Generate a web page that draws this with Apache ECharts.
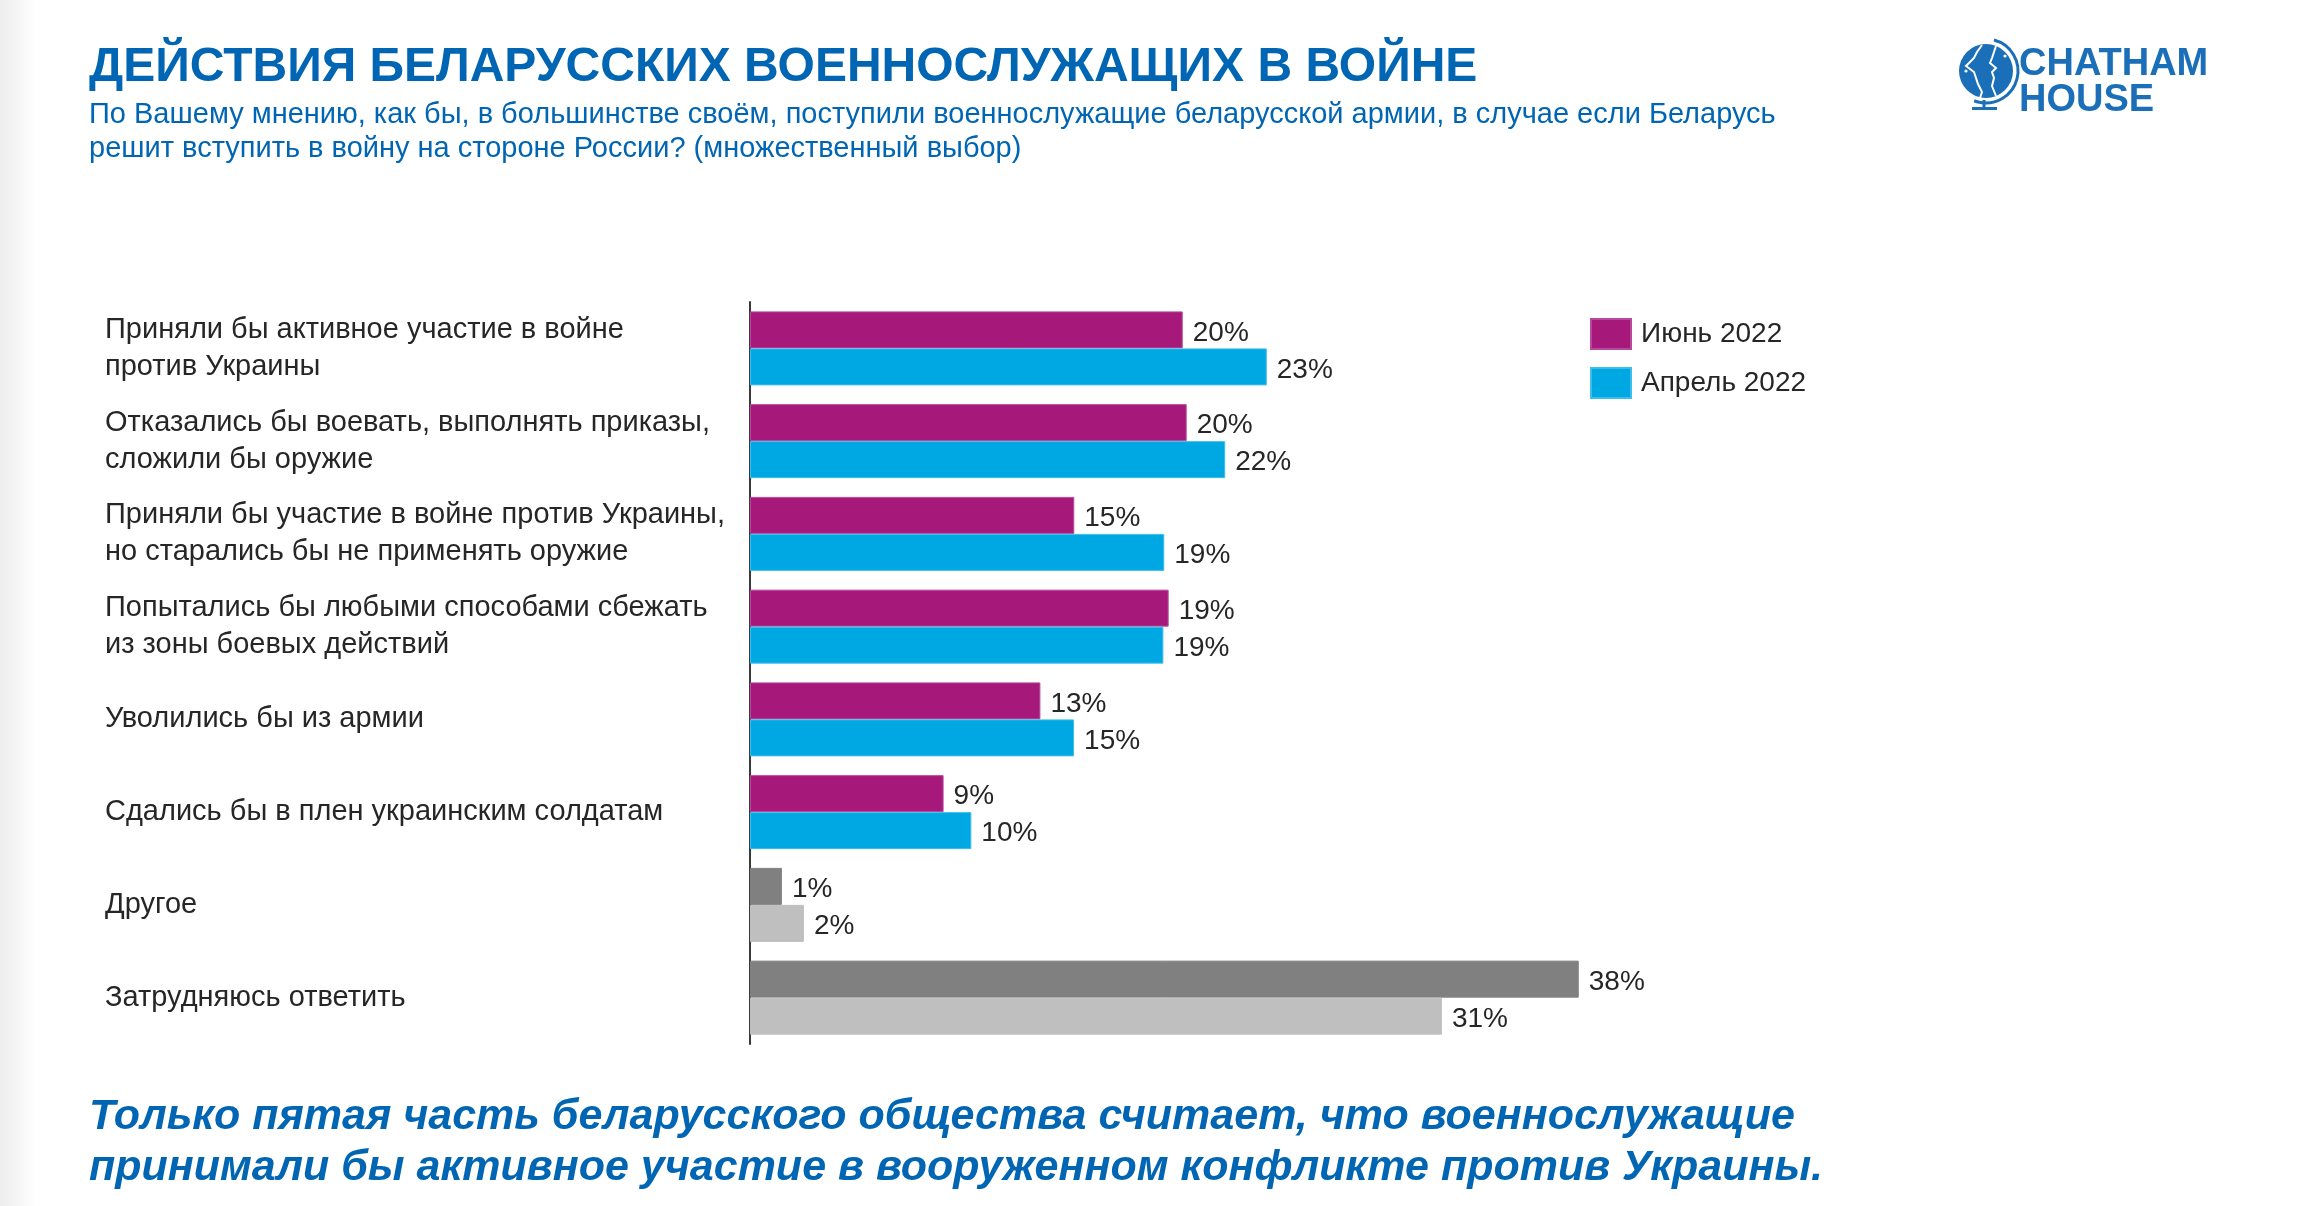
<!DOCTYPE html>
<html>
<head>
<meta charset="utf-8">
<script src="https://cdn.jsdelivr.net/npm/echarts@6/dist/echarts.min.js"></script>
<style>
html,body{margin:0;padding:0;background:#fff;}
#chart{width:2300px;height:1206px;}
</style>
</head>
<body>
<div id="chart"></div>
<script>
// ---- data ----
const categories = [
  'Приняли бы активное участие в войне\nпротив Украины',
  'Отказались бы воевать, выполнять приказы,\nсложили бы оружие',
  'Приняли бы участие в войне против Украины,\nно старались бы не применять оружие',
  'Попытались бы любыми способами сбежать\nиз зоны боевых действий',
  'Уволились бы из армии',
  'Сдались бы в плен украинским солдатам',
  'Другое',
  'Затрудняюсь ответить'
];
const seriesNames = ['Июнь 2022', 'Апрель 2022'];
const june2022 = [19.67, 19.85, 14.74, 19.03, 13.2, 8.8, 1.45, 37.67];
const april2022 = [23.49, 21.6, 18.83, 18.79, 14.73, 10.06, 2.45, 31.45];
const titleText = 'ДЕЙСТВИЯ БЕЛАРУССКИХ ВОЕННОСЛУЖАЩИХ В ВОЙНЕ';
const subtitleLines = [
  'По Вашему мнению, как бы, в большинстве своём, поступили военнослужащие беларусской армии, в случае если Беларусь',
  'решит вступить в войну на стороне России? (множественный выбор)'
];
const footnoteLines = [
  'Только пятая часть беларусского общества считает, что военнослужащие',
  'принимали бы активное участие в вооруженном конфликте против Украины.'
];

// ---- styles ----
const BLUE = '#0065B3';
const PURPLE = '#A6197A';
const CYAN = '#00A8E3';
const GRAY_DARK = '#808080';
const GRAY_LIGHT = '#BFBFBF';
const grayCats = ['Другое', 'Затрудняюсь ответить'];
const FONT = '"Liberation Sans", Arial, sans-serif';

function buildData(values, grayColor) {
  return values.map((v, i) => {
    const isGray = grayCats.indexOf(categories[i]) >= 0;
    return isGray ? { value: v, itemStyle: { color: grayColor, borderColor: grayColor } } : { value: v };
  });
}

const chart = echarts.init(document.getElementById('chart'), null, { renderer: 'canvas' });

const labelCfg = {
  show: true,
  position: 'right',
  distance: 10,
  offset: [0, 3],
  color: '#262626',
  fontFamily: FONT,
  fontSize: 28,
  formatter: p => Math.round(p.value) + '%'
};

function txt(x, y, text, font, fill) {
  return { type: 'text', x: x, y: y, silent: true,
    style: { text: text, fill: fill, font: font, verticalAlign: 'middle', align: 'left' } };
}

const option = {
  backgroundColor: '#ffffff',
  animation: false,
  grid: { left: 750, top: 302, width: 880, height: 742 },
  xAxis: { type: 'value', min: 0, max: 40, show: false },
  yAxis: {
    type: 'category',
    data: categories,
    inverse: true,
    axisLine: { show: true, lineStyle: { color: '#3a3a3a', width: 2 } },
    axisTick: { show: false },
    axisLabel: {
      align: 'left',
      margin: 645,
      color: '#262626',
      fontFamily: FONT,
      fontSize: 29,
      lineHeight: 37,
      backgroundColor: 'rgba(255,255,255,0)',
      padding: [8, 0, 0, 0]
    }
  },
  legend: {
    orient: 'vertical',
    left: 1590,
    top: 318,
    padding: 0,
    itemWidth: 40,
    itemHeight: 30,
    itemGap: 17,
    icon: 'rect',
    data: seriesNames,
    textStyle: { color: '#262626', fontFamily: FONT, fontSize: 28, padding: [0, 0, 0, 5] }
  },
  series: [
    {
      name: seriesNames[0],
      type: 'bar',
      barWidth: 37,
      barGap: '0%',
      itemStyle: { color: PURPLE, borderColor: '#B8499A', borderWidth: 1 },
      label: labelCfg,
      data: buildData(june2022, GRAY_DARK)
    },
    {
      name: seriesNames[1],
      type: 'bar',
      barWidth: 37,
      barGap: '0%',
      itemStyle: { color: CYAN, borderColor: '#3DBDEB', borderWidth: 1 },
      label: labelCfg,
      data: buildData(april2022, GRAY_LIGHT)
    }
  ],
  graphic: [
    {
      type: 'rect', left: 0, top: 0, silent: true,
      shape: { width: 36, height: 1206 },
      style: {
        fill: new echarts.graphic.LinearGradient(0, 0, 1, 0, [
          { offset: 0, color: 'rgba(0,0,0,0.07)' },
          { offset: 1, color: 'rgba(0,0,0,0)' }
        ])
      }
    },
    txt(89, 68, titleText, 'bold 48px ' + FONT, BLUE),
    txt(89, 115, subtitleLines[0], '29px ' + FONT, BLUE),
    txt(89, 149, subtitleLines[1], '29px ' + FONT, BLUE),
    txt(89, 1117, footnoteLines[0], 'italic bold 43px ' + FONT, BLUE),
    txt(89, 1168, footnoteLines[1], 'italic bold 43px ' + FONT, BLUE),
    // logo
    {
      type: 'group', silent: true,
      children: [
        { type: 'circle', shape: { cx: 1986, cy: 71, r: 27 }, style: { fill: '#1A6FB8' } },
        { type: 'arc', shape: { cx: 1986, cy: 71, r: 32, startAngle: -Math.PI * 0.42, endAngle: Math.PI * 0.62 },
          style: { stroke: '#1A6FB8', lineWidth: 3, fill: null } },
        { type: 'line', shape: { x1: 1984, y1: 100, x2: 1984, y2: 108 }, style: { stroke: '#1A6FB8', lineWidth: 3 } },
        { type: 'rect', shape: { x: 1972, y: 107, width: 25, height: 3 }, style: { fill: '#1A6FB8' } },
        { type: 'polyline', shape: { points: [[1982, 45], [1977, 52], [1974, 58], [1970, 62], [1966, 66], [1974, 72], [1976, 78], [1978, 84], [1982, 92], [1980, 98]] },
          style: { stroke: '#fff', lineWidth: 2, fill: null } },
        { type: 'polyline', shape: { points: [[1996, 46], [1994, 52], [1992, 58], [1990, 63], [1996, 68], [1992, 72], [1994, 78], [1992, 86], [1996, 96]] },
          style: { stroke: '#fff', lineWidth: 2, fill: null } },
        { type: 'circle', shape: { cx: 1966, cy: 71, r: 1.6 }, style: { fill: '#fff' } },
        { type: 'circle', shape: { cx: 2005, cy: 56, r: 1.6 }, style: { fill: '#fff' } },
        txt(2019, 65, 'CHATHAM', 'bold 38px ' + FONT, '#1A6FB8'),
        txt(2019, 101, 'HOUSE', 'bold 38px ' + FONT, '#1A6FB8')
      ]
    }
  ]
};
chart.setOption(option);
</script>
</body>
</html>
